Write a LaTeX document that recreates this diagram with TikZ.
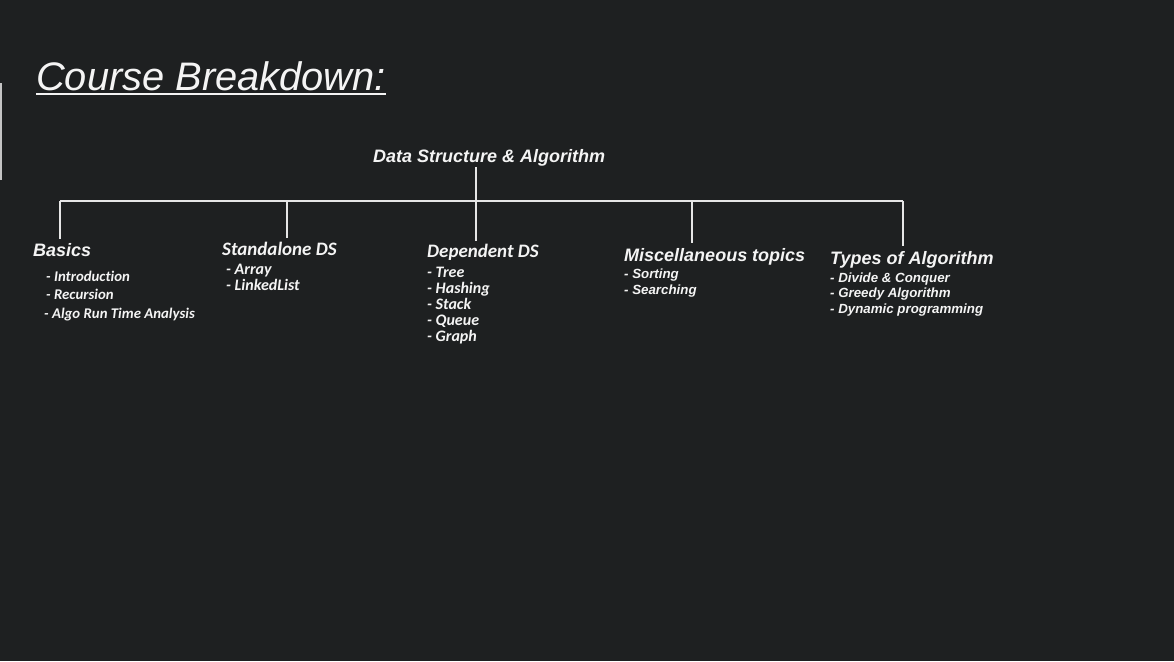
\documentclass[tikz,border=0pt]{standalone}
\usepackage{fontspec}
\setmainfont{Liberation Sans}
\newfontfamily\carlito[Ligatures=NoCommon]{Carlito}
\begin{document}
\begin{tikzpicture}[x=1pt,y=-1pt,
    texto/.style={color=blanco,anchor=base west,inner sep=0pt},
    cabeza/.style={texto,font=\bfseries\itshape\fontsize{18}{18}\selectfont},
    cabezac/.style={texto,font=\carlito\bfseries\itshape\fontsize{19}{19}\selectfont},
    temab/.style={texto,font=\carlito\bfseries\itshape\fontsize{14.8}{14.8}\selectfont},
    temac/.style={texto,font=\carlito\bfseries\itshape\fontsize{16}{16}\selectfont},
    temal/.style={texto,font=\bfseries\itshape\fontsize{13.3}{13.3}\selectfont},
    rama/.style={color=linea,line width=1.8pt}]
    \definecolor{fondo}{HTML}{1E2021}
    \definecolor{blanco}{HTML}{F4F4F4}
    \definecolor{linea}{HTML}{E6E6E6}
    \definecolor{gris}{HTML}{C4C4C4}
    % Fondo
    \fill[fondo] (0,0) rectangle (1174,661);
    \useasboundingbox (0,0) rectangle (1174,661);
    \draw[color=gris,line width=2pt] (1,83) -- (1,180);
    % Titulo
    \node[texto,font=\itshape\fontsize{39.8}{39.8}\selectfont] (titulo) at (36,90) {Course Breakdown:};
    \draw[color=blanco,line width=2pt] ([yshift=-4pt]titulo.base west) -- ([yshift=-4pt]titulo.base east);
    % Raiz
    \node[cabeza] (raiz) at (373,162) {Data Structure \& Algorithm};
    % Basics
    \node[cabeza] (basics) at (33,256) {Basics};
    \node[temab] (intro) at (46,281) {- Introduction};
    \node[temab] (recur) at (46,299) {- Recursion};
    \node[temab] (algo) at (44,318) {- Algo Run Time Analysis};
    % Standalone DS
    \node[cabezac] (standalone) at (222,255) {Standalone DS};
    \node[temac] (array) at (226,274) {- Array};
    \node[temac] (linked) at (226,290) {- LinkedList};
    % Dependent DS
    \node[cabezac] (dependent) at (427,257) {Dependent DS};
    \node[temac] (tree) at (427,277) {- Tree};
    \node[temac] (hash) at (427,293) {- Hashing};
    \node[temac] (stack) at (427,309) {- Stack};
    \node[temac] (queue) at (427,325) {- Queue};
    \node[temac] (graph) at (427,341) {- Graph};
    % Miscellaneous topics
    \node[cabeza] (misc) at (624,261) {Miscellaneous topics};
    \node[temal] (sort) at (624,278) {- Sorting};
    \node[temal] (search) at (624,294) {- Searching};
    % Types of Algorithm
    \node[cabeza] (types) at (830,264) {Types of Algorithm};
    \node[temal] (divide) at (830,282) {- Divide \& Conquer};
    \node[temal] (greedy) at (830,297) {- Greedy Algorithm};
    \node[temal] (dynamic) at (830,313) {- Dynamic programming};
    % Ramas
    \coordinate (j1) at (60,201);
    \coordinate (j2) at (287,201);
    \coordinate (j3) at (476,201);
    \coordinate (j4) at (692,201);
    \coordinate (j5) at (903,201);
    \draw[rama] (j1) -- (j5);
    \draw[rama,shorten <=1pt,shorten >=2pt] (j3 |- raiz.south) -- (j3 |- dependent.north);
    \draw[rama,shorten >=4pt] (j1) -- (j1 |- basics.north);
    \draw[rama,shorten >=3pt] (j2) -- (j2 |- standalone.north);
    \draw[rama,shorten >=5pt] (j4) -- (j4 |- misc.north);
    \draw[rama,shorten >=5pt] (j5) -- (j5 |- types.north);
\end{tikzpicture}
\end{document}
